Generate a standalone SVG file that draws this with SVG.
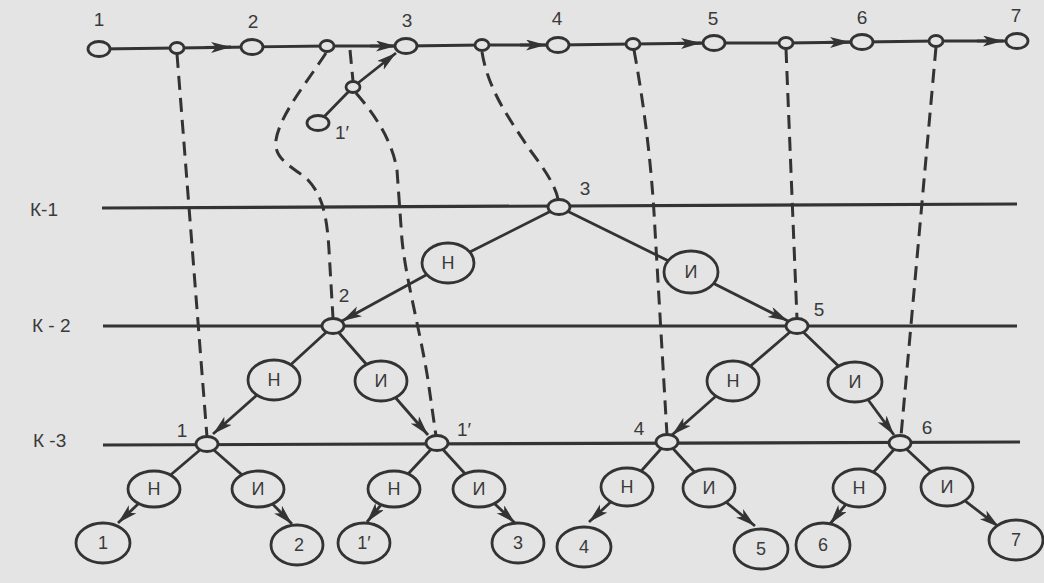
<svg xmlns="http://www.w3.org/2000/svg" width="1044" height="583" viewBox="0 0 1044 583">
  <style>
    .ln { fill: none; stroke: #333; stroke-width: 2.8; stroke-linecap: round; }
    .lv { fill: none; stroke: #333; stroke-width: 3.2; }
    .ds { fill: none; stroke: #333; stroke-width: 3; stroke-dasharray: 14 8; }
    .ar { fill: none; stroke: #333; stroke-width: 2.8; marker-end: url(#head); }
    .nd { fill: #e4e4e4; stroke: #333; stroke-width: 2.8; }
    .tx { font-family: "Liberation Sans", Arial, sans-serif; fill: #3a3a3a; text-anchor: middle; }
    .num { font-size: 19px; }
    .lt { font-size: 18px; }
    .kl { font-family: "Liberation Sans", Arial, sans-serif; fill: #3a3a3a; font-size: 19px; }
  </style>
  <defs>
    <marker id="head" markerUnits="userSpaceOnUse" markerWidth="21" markerHeight="12" refX="20" refY="5.5" orient="auto">
      <path d="M0,0 L20,5.5 L0,11 L5,5.5 z" fill="#333"/>
    </marker>
  </defs>

  <rect width="1044" height="583" fill="#e4e4e4"/>

  <!-- connectors -->
  <g id="connectors">
    <!-- main sequence line -->
    <polyline class="ln" points="99,49 177,48 252,47 327,46 406,46 482,45 558,45 633,44 714,43 786,43 862,42 936,41 1017,41"/>
    <line class="ar" x1="205" y1="47.5" x2="231" y2="47"/>
    <line class="ar" x1="370" y1="46" x2="396" y2="46"/>
    <line class="ar" x1="520" y1="45" x2="546" y2="45"/>
    <line class="ar" x1="675" y1="43.5" x2="701" y2="43"/>
    <line class="ar" x1="824" y1="42.5" x2="850" y2="42"/>
    <line class="ar" x1="977" y1="41" x2="1003" y2="41"/>
    <!-- branch 1' -->
    <line class="ln" x1="318" y1="123" x2="353" y2="87"/>
    <line class="ar" x1="353" y1="87" x2="396" y2="53"/>

    <!-- level lines -->
    <line class="lv" x1="102" y1="208" x2="1017" y2="204"/>
    <line class="lv" x1="103" y1="326" x2="1017" y2="326"/>
    <line class="lv" x1="103" y1="445" x2="1020" y2="442"/>

    <!-- dashed projections -->
    <path class="ds" d="M177,54 L207,437"/>
    <path class="ds" d="M326,53 C305,85 280,115 276,140 C273,160 295,168 308,180 C322,195 327,215 329,250 L333,318"/>
    <path class="ds" d="M350,50 L353,81"/>
    <path class="ds" d="M356,93 C375,115 392,140 397,170 L402,240 C406,280 420,330 428,380 L436,436"/>
    <path class="ds" d="M482,52 C488,90 510,120 530,150 C545,170 555,185 558,199"/>
    <path class="ds" d="M634,50 C645,110 652,170 655,230 L667,435"/>
    <path class="ds" d="M786,49 L797,319"/>
    <path class="ds" d="M936,47 L901,436"/>

    <!-- tree edges -->
    <line class="ln" x1="559" y1="207" x2="448" y2="263"/>
    <line class="ln" x1="559" y1="207" x2="691" y2="272"/>
    <line class="ar" x1="448" y1="263" x2="342" y2="321"/>
    <line class="ar" x1="691" y1="272" x2="788" y2="321"/>

    <line class="ln" x1="333" y1="326" x2="274" y2="380"/>
    <line class="ln" x1="333" y1="326" x2="381" y2="381"/>
    <line class="ar" x1="274" y1="380" x2="213" y2="434"/>
    <line class="ar" x1="381" y1="381" x2="428" y2="435"/>

    <line class="ln" x1="797" y1="326" x2="733" y2="381"/>
    <line class="ln" x1="797" y1="326" x2="855" y2="382"/>
    <line class="ar" x1="733" y1="381" x2="672" y2="435"/>
    <line class="ar" x1="855" y1="382" x2="894" y2="435"/>

    <line class="ln" x1="207" y1="444" x2="154" y2="489"/>
    <line class="ln" x1="207" y1="444" x2="258" y2="489"/>
    <line class="ar" x1="154" y1="489" x2="118" y2="523"/>
    <line class="ar" x1="258" y1="489" x2="292" y2="524"/>

    <line class="ln" x1="437" y1="443" x2="394" y2="489"/>
    <line class="ln" x1="437" y1="443" x2="479" y2="489"/>
    <line class="ar" x1="394" y1="489" x2="367" y2="522"/>
    <line class="ar" x1="479" y1="489" x2="515" y2="523"/>

    <line class="ln" x1="667" y1="442" x2="627" y2="487"/>
    <line class="ln" x1="667" y1="442" x2="709" y2="488"/>
    <line class="ar" x1="627" y1="487" x2="589" y2="522"/>
    <line class="ar" x1="709" y1="488" x2="755" y2="526"/>

    <line class="ln" x1="900" y1="443" x2="859" y2="488"/>
    <line class="ln" x1="900" y1="443" x2="947" y2="487"/>
    <line class="ar" x1="859" y1="488" x2="830" y2="524"/>
    <line class="ar" x1="947" y1="487" x2="999" y2="527"/>
  </g>

  <!-- level captions -->
  <g id="levels">
    <text class="kl" x="30" y="216">К-1</text>
    <text class="kl" x="32" y="332">К - 2</text>
    <text class="kl" x="33" y="447">К -3</text>
  </g>

  <!-- main sequence nodes -->
  <g id="s1"><ellipse class="nd" cx="99" cy="49" rx="11" ry="7.5"/><text class="tx num" x="99" y="26">1</text></g>
  <g id="j1"><ellipse class="nd" cx="177" cy="48" rx="7" ry="5.5"/></g>
  <g id="s2"><ellipse class="nd" cx="252" cy="47" rx="11" ry="7.5"/><text class="tx num" x="253" y="28">2</text></g>
  <g id="j2"><ellipse class="nd" cx="327" cy="46" rx="7" ry="5.5"/></g>
  <g id="s3"><ellipse class="nd" cx="406" cy="46" rx="11" ry="7.5"/><text class="tx num" x="407" y="27">3</text></g>
  <g id="j3"><ellipse class="nd" cx="482" cy="45" rx="7" ry="5.5"/></g>
  <g id="s4"><ellipse class="nd" cx="558" cy="45" rx="11" ry="7.5"/><text class="tx num" x="557" y="25">4</text></g>
  <g id="j4"><ellipse class="nd" cx="633" cy="44" rx="7" ry="5.5"/></g>
  <g id="s5"><ellipse class="nd" cx="714" cy="43" rx="11" ry="7.5"/><text class="tx num" x="713" y="25">5</text></g>
  <g id="j5"><ellipse class="nd" cx="786" cy="43" rx="7" ry="5.5"/></g>
  <g id="s6"><ellipse class="nd" cx="862" cy="42" rx="11" ry="7.5"/><text class="tx num" x="862" y="24">6</text></g>
  <g id="j6"><ellipse class="nd" cx="936" cy="41" rx="7" ry="5.5"/></g>
  <g id="s7"><ellipse class="nd" cx="1017" cy="41" rx="11" ry="7.5"/><text class="tx num" x="1016" y="22">7</text></g>
  <g id="s1p"><ellipse class="nd" cx="318" cy="123" rx="11" ry="7.5"/><text class="tx num" x="342" y="139">1′</text></g>
  <g id="j1p"><ellipse class="nd" cx="353" cy="87" rx="7" ry="5.5"/></g>

  <!-- level nodes -->
  <g id="k1-3"><ellipse class="nd" cx="559" cy="207" rx="11" ry="7.5"/><text class="tx num" x="585" y="195">3</text></g>
  <g id="k2-2"><ellipse class="nd" cx="333" cy="326" rx="11" ry="7.5"/><text class="tx num" x="344" y="302">2</text></g>
  <g id="k2-5"><ellipse class="nd" cx="797" cy="326" rx="11" ry="7.5"/><text class="tx num" x="819" y="316">5</text></g>
  <g id="k3-1"><ellipse class="nd" cx="207" cy="444" rx="11" ry="7.5"/><text class="tx num" x="182" y="437">1</text></g>
  <g id="k3-1p"><ellipse class="nd" cx="437" cy="443" rx="11" ry="7.5"/><text class="tx num" x="464" y="436">1′</text></g>
  <g id="k3-4"><ellipse class="nd" cx="667" cy="442" rx="11" ry="7.5"/><text class="tx num" x="639" y="435">4</text></g>
  <g id="k3-6"><ellipse class="nd" cx="900" cy="443" rx="11" ry="7.5"/><text class="tx num" x="927" y="434">6</text></g>

  <!-- branch decisions -->
  <g id="n3"><ellipse class="nd" cx="448" cy="263" rx="26" ry="20"/><text class="tx lt" x="448" y="269">Н</text></g>
  <g id="i3"><ellipse class="nd" cx="691" cy="272" rx="27" ry="21"/><text class="tx lt" x="691" y="278">И</text></g>
  <g id="n2"><ellipse class="nd" cx="274" cy="380" rx="26" ry="20"/><text class="tx lt" x="274" y="386">Н</text></g>
  <g id="i2"><ellipse class="nd" cx="381" cy="381" rx="26" ry="20"/><text class="tx lt" x="381" y="387">И</text></g>
  <g id="n5"><ellipse class="nd" cx="733" cy="381" rx="26" ry="20"/><text class="tx lt" x="733" y="387">Н</text></g>
  <g id="i5"><ellipse class="nd" cx="855" cy="382" rx="27" ry="20"/><text class="tx lt" x="855" y="388">И</text></g>
  <g id="n1"><ellipse class="nd" cx="154" cy="489" rx="26" ry="18"/><text class="tx lt" x="154" y="495">Н</text></g>
  <g id="i1"><ellipse class="nd" cx="258" cy="489" rx="26" ry="18"/><text class="tx lt" x="258" y="495">И</text></g>
  <g id="n1p"><ellipse class="nd" cx="394" cy="489" rx="26" ry="18"/><text class="tx lt" x="394" y="495">Н</text></g>
  <g id="i1p"><ellipse class="nd" cx="479" cy="489" rx="26" ry="18"/><text class="tx lt" x="479" y="495">И</text></g>
  <g id="n4"><ellipse class="nd" cx="627" cy="487" rx="26" ry="19"/><text class="tx lt" x="627" y="493">Н</text></g>
  <g id="i4"><ellipse class="nd" cx="709" cy="488" rx="26" ry="19"/><text class="tx lt" x="709" y="494">И</text></g>
  <g id="n6"><ellipse class="nd" cx="859" cy="488" rx="26" ry="19"/><text class="tx lt" x="859" y="494">Н</text></g>
  <g id="i6"><ellipse class="nd" cx="947" cy="487" rx="26" ry="19"/><text class="tx lt" x="947" y="493">И</text></g>

  <!-- outcomes -->
  <g id="r1"><ellipse class="nd" cx="103" cy="543" rx="27" ry="20"/><text class="tx lt" x="103" y="549">1</text></g>
  <g id="r2"><ellipse class="nd" cx="297" cy="545" rx="26" ry="20"/><text class="tx lt" x="299" y="551">2</text></g>
  <g id="r1p"><ellipse class="nd" cx="364" cy="543" rx="26" ry="20"/><text class="tx lt" x="364" y="549">1′</text></g>
  <g id="r3"><ellipse class="nd" cx="518" cy="543" rx="26" ry="20"/><text class="tx lt" x="518" y="549">3</text></g>
  <g id="r4"><ellipse class="nd" cx="584" cy="547" rx="27" ry="20"/><text class="tx lt" x="584" y="553">4</text></g>
  <g id="r5"><ellipse class="nd" cx="761" cy="549" rx="27" ry="20"/><text class="tx lt" x="761" y="555">5</text></g>
  <g id="r6"><ellipse class="nd" cx="823" cy="545" rx="27" ry="22"/><text class="tx lt" x="823" y="551">6</text></g>
  <g id="r7"><ellipse class="nd" cx="1016" cy="540" rx="27" ry="20"/><text class="tx lt" x="1016" y="546">7</text></g>
</svg>
